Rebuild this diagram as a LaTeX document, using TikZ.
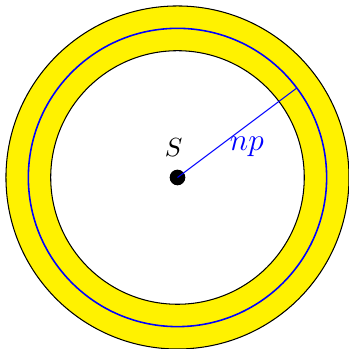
\documentclass[tikz,border=0pt]{standalone}
\usepackage{amsmath}
\usepackage{tikz}
\usetikzlibrary{positioning}

\begin{document}
\begin{tikzpicture}[
        band/.style={fill=yellow, even odd rule},
        edge/.style={draw=black},
        orbit/.style={draw=blue, semithick},
        spot/.style={circle, fill=black, inner sep=0pt, minimum size=2.1mm}
    ]
        \useasboundingbox (-2.38, -2.3) rectangle (2.3, 2.38);

        % Ring
        \fill[band] (0, 0) circle (2.3) (0, 0) circle (1.7);
        \draw[edge] (0, 0) circle (2.3);
        \draw[edge] (0, 0) circle (1.7);
        \draw[orbit] (0, 0) circle (2);

        % Nodes
        \node[spot] (s) at (0, 0) {};
        \node[above=0.5mm of s, xshift=-0.5mm] (slabel) {$S$};
        \coordinate (rim) at (36.87:2);
        \node[text=blue, font=\large] (np) at (0.93, 0.41) {$np$};

        % Edges
        \draw[blue] (s.center) -- (rim);

    \end{tikzpicture}
\end{document}
